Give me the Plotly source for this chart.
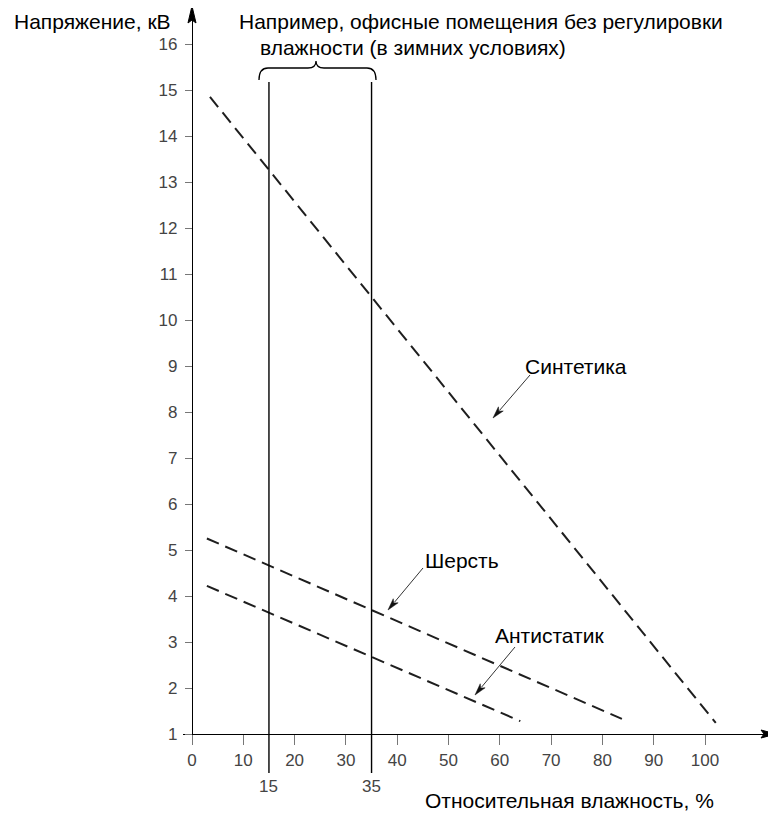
import math
import plotly.graph_objects as go

# ---------------- data ----------------
humidity_synth = [3.5, 102.1]
voltage_synth = [14.85, 1.24]
humidity_wool = [2.9, 83.8]
voltage_wool = [5.25, 1.33]
humidity_anti = [2.9, 64.0]
voltage_anti = [4.22, 1.28]
x_ticks = [0, 10, 20, 30, 40, 50, 60, 70, 80, 90, 100]
y_ticks = list(range(1, 17))
range_marks = [15, 35]
series_names = ["Синтетика", "Шерсть", "Антистатик"]

# ---------------- geometry helpers (screenshot pixels) ----------------
W, H = 776, 815
OFF = 8                      # page body margin
L, R, T, B = 183, 765, 20, 734
X0PX, SX = 192, 5.13         # pixel of x=0, pixels per unit
Y1PX, SY = 734, 46.0         # pixel of y=1, pixels per unit
xr = [(L - X0PX) / SX, (R - X0PX) / SX]
yr = [1 + (Y1PX - B) / SY, 1 + (Y1PX - T) / SY]


def px(xp):
    return (xp - L) / (R - L)


def py(yp):
    return (B - yp) / (B - T)


def path(points, close=False):
    s = "M " + " L ".join(f"{px(a):.5f},{py(b):.5f}" for a, b in points)
    return s + (" Z" if close else "")


FONT = "Liberation Sans, Arial, Helvetica, sans-serif"
DASH = "13px,7px"
LINE_COLOR = "#1e1e1e"

fig = go.Figure()
for hx, vy, nm in [(humidity_synth, voltage_synth, series_names[0]),
                   (humidity_wool, voltage_wool, series_names[1]),
                   (humidity_anti, voltage_anti, series_names[2])]:
    fig.add_trace(go.Scatter(x=hx, y=vy, mode="lines", name=nm,
                             line=dict(color=LINE_COLOR, width=2, dash=DASH),
                             showlegend=False, hoverinfo="skip"))

shapes = []
# vertical boundary lines at 15 % and 35 %
for m in range_marks:
    shapes.append(dict(type="line", xref="x", yref="paper", x0=m, x1=m,
                       y0=py(773), y1=py(82), line=dict(color="black", width=1.4)))

# curly brace
brace = (f"M {px(259):.5f},{py(80):.5f} Q {px(259):.5f},{py(68):.5f} {px(268):.5f},{py(68):.5f} "
         f"L {px(308):.5f},{py(68):.5f} Q {px(316):.5f},{py(68):.5f} {px(316):.5f},{py(61):.5f} "
         f"Q {px(316):.5f},{py(68):.5f} {px(324):.5f},{py(68):.5f} "
         f"L {px(367):.5f},{py(68):.5f} Q {px(376):.5f},{py(68):.5f} {px(376):.5f},{py(80):.5f}")
shapes.append(dict(type="path", xref="paper", yref="paper", path=brace,
                   line=dict(color="black", width=1.3)))

# axis arrowheads
shapes.append(dict(type="path", xref="paper", yref="paper",
                   path=path([(776, 734), (761, 730), (764, 734), (761, 738)], True),
                   fillcolor="black", line=dict(color="black", width=1)))
shapes.append(dict(type="path", xref="paper", yref="paper",
                   path=path([(192, 6), (188, 23), (192, 20), (196, 23)], True),
                   fillcolor="black", line=dict(color="black", width=1)))

# label pointer arrows (tail -> tip, pixel positions)
pointers = [((530, 375), (493, 418)), ((423, 568), (388, 610)), ((515, 647), (475, 695))]
for (tx, ty), (hx, hy) in pointers:
    d = math.hypot(hx - tx, hy - ty)
    ux, uy = (hx - tx) / d, (hy - ty) / d
    nx, ny = -uy, ux
    hl, hw = 12, 3.2
    bx, by = hx - ux * hl, hy - uy * hl
    shapes.append(dict(type="line", xref="paper", yref="paper",
                       x0=px(tx), y0=py(ty), x1=px(bx + ux * 2), y1=py(by + uy * 2),
                       line=dict(color="#333", width=1)))
    shapes.append(dict(type="path", xref="paper", yref="paper",
                       path=path([(hx, hy), (bx + nx * hw, by + ny * hw),
                                  (bx + ux * 3, by + uy * 3), (bx - nx * hw, by - ny * hw)], True),
                       fillcolor="#111", line=dict(color="#111", width=0.5)))

annotations = []


def text(t, xp, yp, size=21, color="black", anchor="left"):
    annotations.append(dict(text=t, xref="paper", yref="paper", x=px(xp), y=py(yp),
                            xanchor=anchor, yanchor="middle", showarrow=False,
                            font=dict(family=FONT, size=size, color=color)))


text("Напряжение, кВ", 12, 22, size=21)
text("Например, офисные помещения без регулировки", 237, 22)
text("влажности (в зимних условиях)", 258, 48)
text("Относительная влажность, %", 423, 800)
text(series_names[0], 523, 366)
text(series_names[1], 423, 560)
text(series_names[2], 493, 635)
for m in range_marks:
    text(str(m), X0PX + m * SX, 786, size=17, color="#444", anchor="center")

fig.update_layout(
    width=W, height=H,
    margin=dict(l=L - OFF, r=W - (R - OFF), t=T - OFF, b=H - (B - OFF)),
    paper_bgcolor="white", plot_bgcolor="white",
    shapes=shapes, annotations=annotations,
    font=dict(family=FONT),
    xaxis=dict(range=xr, domain=[0, 1], anchor="y", showline=True, linecolor="black",
               linewidth=1.3, ticks="outside", ticklen=10, tickcolor="#777", tickwidth=1,
               tickvals=x_ticks, tickfont=dict(size=17, color="#444"),
               showgrid=False, zeroline=False),
    yaxis=dict(range=yr, anchor="free", position=px(X0PX), showline=True, linecolor="black",
               linewidth=1.3, ticks="outside", ticklen=7, tickcolor="#777", tickwidth=1,
               tickvals=y_ticks, tickfont=dict(size=17, color="#444"), ticklabelstandoff=4,
               showgrid=False, zeroline=False),
)

fig.write_html("out.html")
